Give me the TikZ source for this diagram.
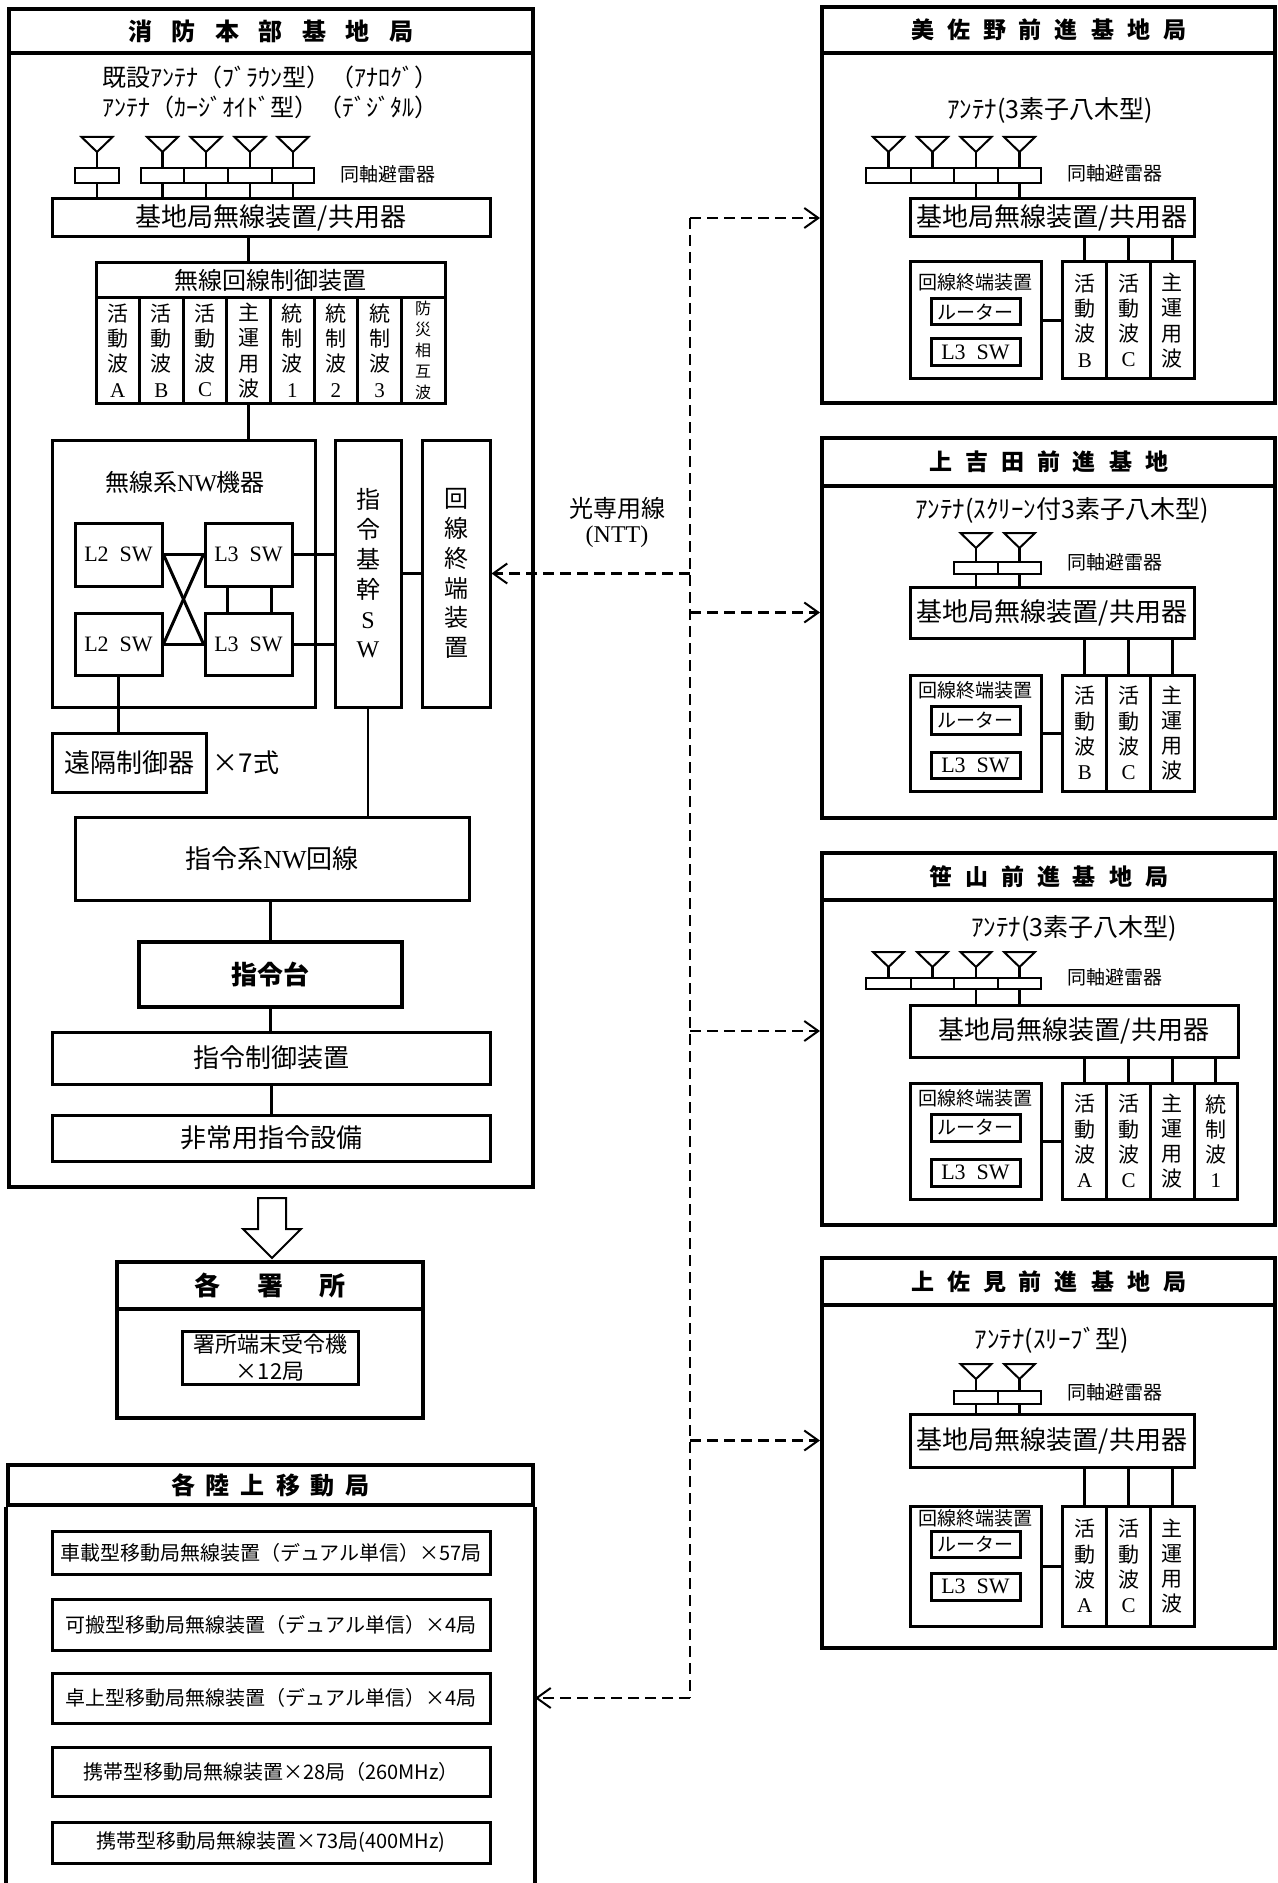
\documentclass[tikz,border=0pt]{standalone}
\usepackage{fontspec}
\setmainfont{Noto Sans CJK JP}
\newfontfamily\lat{Liberation Serif}
\usetikzlibrary{calc,arrows.meta}

\newlength\tgap
\newcommand{\gp}{\hspace{\tgap}}
% antenna: name, x, y of the top edge
\newcommand{\antenna}[3]{%
  \coordinate (#1) at (#2,#3+15);
  \draw[antline] (#1) -- ++(-15.5,-15) -- ++(31,0) -- cycle;}

\tikzset{
  sz/.style 2 args={minimum width=#1*0.5pt, minimum height=#2*0.5pt},
  frame/.style={draw, line width=2pt, inner sep=0pt},
  rim/.style={line width=2pt},
  blk/.style={draw, line width=1.5pt, inner sep=0pt},
  arr/.style={draw, line width=1.3pt, inner sep=0pt},
  link/.style={line width=1.5pt},
  stem/.style={line width=1.3pt},
  antline/.style={line width=1pt},
  fiberline/.style={line width=1.2pt, dash pattern=on 5.5pt off 3pt},
  fiber/.style={fiberline, -{Straight Barb[length=7pt,width=10pt,line width=1pt]}},
  ttl/.style={font=\bfseries\fontsize{12}{14}\selectfont},
  sttl/.style={font=\bfseries\fontsize{11.5}{13}\selectfont},
  big/.style={font=\fontsize{13}{15}\selectfont},
  mid/.style={font=\fontsize{12}{14}\selectfont},
  anttxt/.style={font=\fontsize{12.5}{14}\selectfont},
  small/.style={font=\fontsize{9.5}{11}\selectfont},
  rowtxt/.style={font=\fontsize{10}{12}\selectfont},
  swtxt/.style={font=\lat\fontsize{11}{13}\selectfont},
  coltxt/.style={align=center, font=\fontsize{10.5}{12.6}\selectfont},
  vtxt/.style={align=center, font=\fontsize{12}{14.9}\selectfont},
}

\begin{document}
\begin{tikzpicture}[x=0.5pt,y=-0.5pt]
  \useasboundingbox (0,0) rectangle (1278,1883);

  % ---- headquarters
  \node[frame, sz={524}{44}, ttl] (hqtitle) at (271,31)
    {\setlength\tgap{9.75pt}消\gp 防\gp 本\gp 部\gp 基\gp 地\gp 局};
  \node[frame, sz={524}{1134}] (hq) at (271,620) {};
  \node[mid] (hqant1) at (270,77) {既設ｱﾝﾃﾅ（ﾌﾞﾗｳﾝ型）（ｱﾅﾛｸﾞ）};
  \node[mid] (hqant2) at (270,107) {ｱﾝﾃﾅ（ｶｰｼﾞｵｲﾄﾞ型）（ﾃﾞｼﾞﾀﾙ）};

  \antenna{ha1}{97}{137}
  \antenna{ha2}{162.5}{137}
  \antenna{ha3}{206}{137}
  \antenna{ha4}{250}{137}
  \antenna{ha5}{293}{137}
  \node[arr, sz={44}{15}] (hr1) at (97,175.5) {};
  \node[arr, sz={43}{15}] (hr2) at (162.5,175.5) {};
  \node[arr, sz={44}{15}] (hr3) at (206,175.5) {};
  \node[arr, sz={44}{15}] (hr4) at (250,175.5) {};
  \node[arr, sz={42}{15}] (hr5) at (293,175.5) {};
  \node[small] (hqarl) at (388,174) {同軸避雷器};
  \node[blk, sz={438}{38}, big] (hqbase) at (271,218) {基地局無線装置/共用器};
  \draw[stem] (ha1) -- (hr1.north);
  \draw[stem] (ha2) -- (hr2.north);
  \draw[stem] (ha3) -- (hr3.north);
  \draw[stem] (ha4) -- (hr4.north);
  \draw[stem] (ha5) -- (hr5.north);
  \draw[stem] (hr1.south) -- (hr1.south |- hqbase.north);
  \draw[stem] (hr2.south) -- (hr2.south |- hqbase.north);
  \draw[stem] (hr3.south) -- (hr3.south |- hqbase.north);
  \draw[stem] (hr4.south) -- (hr4.south |- hqbase.north);
  \draw[stem] (hr5.south) -- (hr5.south |- hqbase.north);

  \node[blk, sz={349}{35}, mid] (ctrl) at (270.5,280.5) {無線回線制御装置};
  \node[blk, sz={43.6}{105}, coltxt] (cw1) at (117.8,350.5) {活\\動\\波\\{\lat A}};
  \node[blk, sz={43.6}{105}, coltxt] (cw2) at (161.4,350.5) {活\\動\\波\\{\lat B}};
  \node[blk, sz={43.6}{105}, coltxt] (cw3) at (205.1,350.5) {活\\動\\波\\{\lat C}};
  \node[blk, sz={43.6}{105}, coltxt] (cw4) at (248.7,350.5) {主\\運\\用\\波};
  \node[blk, sz={43.6}{105}, coltxt] (cw5) at (292.3,350.5) {統\\制\\波\\{\lat 1}};
  \node[blk, sz={43.6}{105}, coltxt] (cw6) at (335.9,350.5) {統\\制\\波\\{\lat 2}};
  \node[blk, sz={43.6}{105}, coltxt] (cw7) at (379.6,350.5) {統\\制\\波\\{\lat 3}};
  \node[blk, sz={43.6}{105}, align=center, font=\fontsize{8}{10.6}\selectfont] (cw8)
    at (423.2,350.5) {防\\災\\相\\互\\波};
  \draw[link] (hqbase.south -| cw4) -- (ctrl.north -| cw4);

  \node[blk, sz={263}{267}] (nwbox) at (183.5,573.5) {};
  \node[mid] (nwlabel) at (185,482) {無線系{\lat NW}機器};
  \draw[link] (cw4.south) -- (cw4.south |- nwbox.north);
  \node[blk, sz={87}{63}, swtxt] (l2a) at (118.5,554.5) {L2\ \ SW};
  \node[blk, sz={87}{62}, swtxt] (l2b) at (118.5,644) {L2\ \ SW};
  \node[blk, sz={87}{63}, swtxt] (l3a) at (248.5,554.5) {L3\ \ SW};
  \node[blk, sz={87}{62}, swtxt] (l3b) at (248.5,644) {L3\ \ SW};
  \draw[link] (l2a.east) -- (l3a.west);
  \draw[link] (l2b.east) -- (l3b.west);
  \draw[link] (l2a.east) -- (l3b.west);
  \draw[link] (l2b.east) -- (l3a.west);
  \draw[link] ($(l3a.south)+(-21.5,0)$) -- ($(l3b.north)+(-21.5,0)$);
  \draw[link] ($(l3a.south)+(22.5,0)$) -- ($(l3b.north)+(22.5,0)$);

  \node[blk, sz={66}{267}, vtxt] (cmdsw) at (368,573.5)
    {指\\令\\基\\幹\\{\lat S}\\{\lat W}};
  \node[blk, sz={68}{267}, vtxt] (hqlte) at (456,573.5) {回\\線\\終\\端\\装\\置};
  \draw[link] (l3a.east) -- (l3a.east -| cmdsw.west);
  \draw[link] (l3b.east) -- (l3b.east -| cmdsw.west);
  \draw[link] (cmdsw.east) -- (hqlte.west);

  \node[blk, sz={154}{59}, big] (rc) at (129,762.5) {遠隔制御器};
  \node[big] (rcnum) at (246,763) {×7式};
  \draw[link] (l2b.south) -- (l2b.south |- rc.north);

  \node[blk, sz={394}{83}, big] (cmdnw) at (272,858.5) {指令系{\lat NW}回線};
  \draw[line width=0.6pt] (cmdsw.south) -- (cmdsw.south |- cmdnw.north);
  \node[blk, line width=2.3pt, sz={263}{65}, font=\bfseries\fontsize{13}{15}\selectfont]
    (desk) at (270.5,974.5) {指令台};
  \node[blk, sz={438}{52}, big] (ctl) at (271,1058) {指令制御装置};
  \node[blk, sz={438}{46}, big] (emg) at (271,1138) {非常用指令設備};
  \draw[link] (cmdnw.south -| desk) -- (desk.north);
  \draw[link] (desk.south) -- (desk.south |- ctl.north);
  \draw[link] (ctl.south) -- (emg.north);

  % hollow arrow down to the stations
  \draw[line width=1pt] (258,1198) -- (286,1198) -- (286,1229) -- (301,1229)
    -- (272,1258) -- (243,1229) -- (258,1229) -- cycle;

  % ---- fire stations
  \node[frame, sz={306}{47}, font=\bfseries\fontsize{13}{15}\selectfont] (shotitle)
    at (270,1285.5) {\setlength\tgap{18.5pt}各\gp 署\gp 所};
  \node[frame, sz={306}{109}] (sho) at (270,1363.5) {};
  \node[blk, sz={176}{53}, align=center, font=\fontsize{11}{13.5}\selectfont]
    (shoterm) at (270,1357.5) {署所端末受令機\\×12局};

  % ---- mobile stations
  \node[frame, sz={525}{40}, ttl] (mobtitle) at (270.5,1485)
    {\setlength\tgap{5.5pt}各\gp 陸\gp 上\gp 移\gp 動\gp 局};
  \draw[rim] (mobtitle.south west) -- ++(0,378);
  \draw[rim] (mobtitle.south east) -- ++(0,378);
  \node[blk, sz={438}{43}, rowtxt] (mob1) at (271,1552.5) {車載型移動局無線装置（デュアル単信）×57局};
  \node[blk, sz={438}{51}, rowtxt] (mob2) at (271,1624.5) {可搬型移動局無線装置（デュアル単信）×4局};
  \node[blk, sz={438}{50}, rowtxt] (mob3) at (271,1698) {卓上型移動局無線装置（デュアル単信）×4局};
  \node[blk, sz={438}{49}, rowtxt] (mob4) at (271,1771.5) {携帯型移動局無線装置×28局（260MHz）};
  \node[blk, sz={438}{41}, rowtxt] (mob5) at (271,1842.5) {携帯型移動局無線装置×73局(400MHz)};

  % ---- Misano
  \node[frame, sz={453}{46}, sttl] (s1title) at (1048.5,30)
    {\setlength\tgap{6.5pt}美\gp 佐\gp 野\gp 前\gp 進\gp 基\gp 地\gp 局};
  \node[frame, sz={453}{350}] (s1) at (1048.5,228) {};
  \node[anttxt] (s1ant) at (1050,110) {ｱﾝﾃﾅ(3素子八木型)};
  \antenna{s1a1}{888.5}{137}
  \antenna{s1a2}{932.5}{137}
  \antenna{s1a3}{976}{137}
  \antenna{s1a4}{1019.5}{137}
  \node[arr, sz={45}{15}] (s1r1) at (888.5,175.5) {};
  \node[arr, sz={43}{15}] (s1r2) at (932.5,175.5) {};
  \node[arr, sz={44}{15}] (s1r3) at (976,175.5) {};
  \node[arr, sz={43}{15}] (s1r4) at (1019.5,175.5) {};
  \node[small] (s1arl) at (1115,173) {同軸避雷器};
  \node[blk, sz={284}{38}, big] (s1base) at (1052,218) {基地局無線装置/共用器};
  \draw[stem] (s1a1) -- (s1r1.north);
  \draw[stem] (s1a2) -- (s1r2.north);
  \draw[stem] (s1a3) -- (s1r3.north);
  \draw[stem] (s1a4) -- (s1r4.north);
  \draw[stem] (s1r3.south) -- (s1r3.south |- s1base.north);
  \draw[stem] (s1r4.south) -- (s1r4.south |- s1base.north);
  \node[blk, sz={43.7}{117}, coltxt] (s1w1) at (1084.8,320.5) {活\\動\\波\\{\lat B}};
  \node[blk, sz={43.7}{117}, coltxt] (s1w2) at (1128.5,320.5) {活\\動\\波\\{\lat C}};
  \node[blk, sz={43.7}{117}, coltxt] (s1w3) at (1172.2,320.5) {主\\運\\用\\波};
  \draw[link] (s1w1.north) -- (s1w1.north |- s1base.south);
  \draw[link] (s1w2.north) -- (s1w2.north |- s1base.south);
  \draw[link] (s1w3.north) -- (s1w3.north |- s1base.south);
  \node[blk, sz={131}{117}] (s1lte) at (975.5,320.5) {};
  \node[small] (s1ltel) at (975.5,282) {回線終端装置};
  \node[blk, sz={89}{26}, small] (s1rt) at (975.5,312) {ルーター};
  \node[blk, sz={89}{27}, swtxt] (s1l3) at (975.5,352.5) {L3\ \ SW};
  \draw[link] (s1lte.east) -- (s1w1.west);

  % ---- Kamiyoshida
  \node[frame, sz={453}{48}, sttl] (s2title) at (1048.5,462)
    {\setlength\tgap{6.5pt}上\gp 吉\gp 田\gp 前\gp 進\gp 基\gp 地};
  \node[frame, sz={453}{332}] (s2) at (1048.5,652) {};
  \node[anttxt] (s2ant) at (1062,510) {ｱﾝﾃﾅ(ｽｸﾘｰﾝ付3素子八木型)};
  \antenna{s2a1}{976}{533}
  \antenna{s2a2}{1019.5}{533}
  \node[arr, sz={44}{12}] (s2r1) at (976,568) {};
  \node[arr, sz={43}{12}] (s2r2) at (1019.5,568) {};
  \node[small] (s2arl) at (1115,562) {同軸避雷器};
  \node[blk, sz={284}{51}, big] (s2base) at (1052,612.5) {基地局無線装置/共用器};
  \draw[stem] (s2a1) -- (s2r1.north);
  \draw[stem] (s2a2) -- (s2r2.north);
  \draw[stem] (s2r1.south) -- (s2r1.south |- s2base.north);
  \draw[stem] (s2r2.south) -- (s2r2.south |- s2base.north);
  \node[blk, sz={43.7}{116}, coltxt] (s2w1) at (1084.8,733) {活\\動\\波\\{\lat B}};
  \node[blk, sz={43.7}{116}, coltxt] (s2w2) at (1128.5,733) {活\\動\\波\\{\lat C}};
  \node[blk, sz={43.7}{116}, coltxt] (s2w3) at (1172.2,733) {主\\運\\用\\波};
  \draw[link] (s2w1.north) -- (s2w1.north |- s2base.south);
  \draw[link] (s2w2.north) -- (s2w2.north |- s2base.south);
  \draw[link] (s2w3.north) -- (s2w3.north |- s2base.south);
  \node[blk, sz={131}{116}] (s2lte) at (975.5,733) {};
  \node[small] (s2ltel) at (975.5,690) {回線終端装置};
  \node[blk, sz={89}{28}, small] (s2rt) at (975.5,720) {ルーター};
  \node[blk, sz={89}{26}, swtxt] (s2l3) at (975.5,765) {L3\ \ SW};
  \draw[link] (s2lte.east) -- (s2w1.west);

  % ---- Sasayama
  \node[frame, sz={453}{47}, sttl] (s3title) at (1048.5,876.5)
    {\setlength\tgap{6.5pt}笹\gp 山\gp 前\gp 進\gp 基\gp 地\gp 局};
  \node[frame, sz={453}{325}] (s3) at (1048.5,1062.5) {};
  \node[anttxt] (s3ant) at (1074,928) {ｱﾝﾃﾅ(3素子八木型)};
  \antenna{s3a1}{888.5}{952}
  \antenna{s3a2}{932.5}{952}
  \antenna{s3a3}{976}{952}
  \antenna{s3a4}{1019.5}{952}
  \node[arr, sz={45}{11}] (s3r1) at (888.5,983.5) {};
  \node[arr, sz={43}{11}] (s3r2) at (932.5,983.5) {};
  \node[arr, sz={44}{11}] (s3r3) at (976,983.5) {};
  \node[arr, sz={43}{11}] (s3r4) at (1019.5,983.5) {};
  \node[small] (s3arl) at (1115,977) {同軸避雷器};
  \node[blk, sz={328}{52}, big] (s3base) at (1074,1031) {基地局無線装置/共用器};
  \draw[stem] (s3a1) -- (s3r1.north);
  \draw[stem] (s3a2) -- (s3r2.north);
  \draw[stem] (s3a3) -- (s3r3.north);
  \draw[stem] (s3a4) -- (s3r4.north);
  \draw[stem] (s3r3.south) -- (s3r3.south |- s3base.north);
  \draw[stem] (s3r4.south) -- (s3r4.south |- s3base.north);
  \node[blk, sz={43.7}{116}, coltxt] (s3w1) at (1084.8,1141) {活\\動\\波\\{\lat A}};
  \node[blk, sz={43.7}{116}, coltxt] (s3w2) at (1128.5,1141) {活\\動\\波\\{\lat C}};
  \node[blk, sz={43.7}{116}, coltxt] (s3w3) at (1172.2,1141) {主\\運\\用\\波};
  \node[blk, sz={43.7}{116}, coltxt] (s3w4) at (1215.9,1141) {統\\制\\波\\{\lat 1}};
  \draw[link] (s3w1.north) -- (s3w1.north |- s3base.south);
  \draw[link] (s3w2.north) -- (s3w2.north |- s3base.south);
  \draw[link] (s3w3.north) -- (s3w3.north |- s3base.south);
  \draw[link] (s3w4.north) -- (s3w4.north |- s3base.south);
  \node[blk, sz={131}{116}] (s3lte) at (975.5,1141) {};
  \node[small] (s3ltel) at (975.5,1098) {回線終端装置};
  \node[blk, sz={89}{27}, small] (s3rt) at (975.5,1127.5) {ルーター};
  \node[blk, sz={89}{27}, swtxt] (s3l3) at (975.5,1172.5) {L3\ \ SW};
  \draw[link] (s3lte.east) -- (s3w1.west);

  % ---- Kamisami
  \node[frame, sz={453}{47}, sttl] (s4title) at (1048.5,1281.5)
    {\setlength\tgap{6.5pt}上\gp 佐\gp 見\gp 前\gp 進\gp 基\gp 地\gp 局};
  \node[frame, sz={453}{343}] (s4) at (1048.5,1476.5) {};
  \node[anttxt] (s4ant) at (1052,1340) {ｱﾝﾃﾅ(ｽﾘｰﾌﾞ型)};
  \antenna{s4a1}{976}{1364}
  \antenna{s4a2}{1019.5}{1364}
  \node[arr, sz={44}{13}] (s4r1) at (976,1397.5) {};
  \node[arr, sz={43}{13}] (s4r2) at (1019.5,1397.5) {};
  \node[small] (s4arl) at (1115,1392) {同軸避雷器};
  \node[blk, sz={284}{53}, big] (s4base) at (1052,1440.5) {基地局無線装置/共用器};
  \draw[stem] (s4a1) -- (s4r1.north);
  \draw[stem] (s4a2) -- (s4r2.north);
  \draw[stem] (s4r1.south) -- (s4r1.south |- s4base.north);
  \draw[stem] (s4r2.south) -- (s4r2.south |- s4base.north);
  \node[blk, sz={43.7}{120}, coltxt] (s4w1) at (1084.8,1566) {活\\動\\波\\{\lat A}};
  \node[blk, sz={43.7}{120}, coltxt] (s4w2) at (1128.5,1566) {活\\動\\波\\{\lat C}};
  \node[blk, sz={43.7}{120}, coltxt] (s4w3) at (1172.2,1566) {主\\運\\用\\波};
  \draw[link] (s4w1.north) -- (s4w1.north |- s4base.south);
  \draw[link] (s4w2.north) -- (s4w2.north |- s4base.south);
  \draw[link] (s4w3.north) -- (s4w3.north |- s4base.south);
  \node[blk, sz={131}{120}] (s4lte) at (975.5,1566) {};
  \node[small] (s4ltel) at (975.5,1518) {回線終端装置};
  \node[blk, sz={89}{26}, small] (s4rt) at (975.5,1544) {ルーター};
  \node[blk, sz={89}{27}, swtxt] (s4l3) at (975.5,1586.5) {L3\ \ SW};
  \draw[link] (s4lte.east) -- (s4w1.west);

  % ---- dedicated optical line
  \coordinate (trunktop) at (690,218);
  \coordinate (trunkbot) at (690,1698);
  \draw[fiberline] (trunktop) -- (trunkbot);
  \draw[fiber] (trunktop) -- (s1.west |- s1base);
  \draw[fiber] (trunktop |- s2base) -- (s2.west |- s2base);
  \draw[fiber] (trunktop |- s3base) -- (s3.west |- s3base);
  \draw[fiber] (trunktop |- s4base) -- (s4.west |- s4base);
  \draw[fiber] (trunktop |- hqlte) -- (hqlte.east);
  \draw[fiber] (trunkbot) -- (mob3 -| mobtitle.east);
  \node[align=center, font=\fontsize{12}{12.5}\selectfont] (fiberl) at (617,522)
    {光専用線\\{\lat (NTT)}};
\end{tikzpicture}
\end{document}
